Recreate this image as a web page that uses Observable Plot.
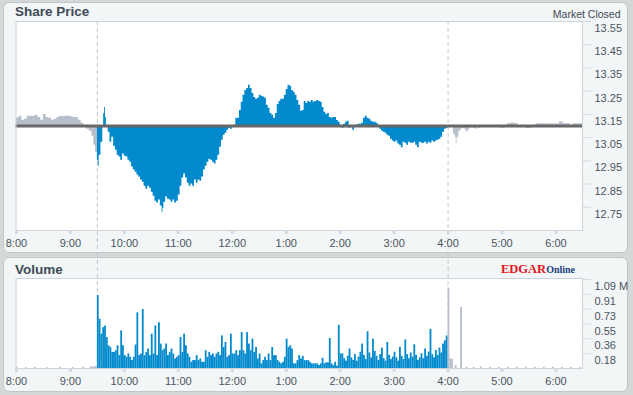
<!DOCTYPE html>
<html><head><meta charset="utf-8">
<script src="https://cdn.jsdelivr.net/npm/d3@7"></script>
<script src="https://cdn.jsdelivr.net/npm/@observablehq/plot@0.6"></script>
<style>
html,body{margin:0;padding:0;}
body{width:633px;height:395px;background:#d4d8d8;position:relative;overflow:hidden;font-family:"Liberation Sans",Arial,sans-serif;}
.panel{position:absolute;left:3px;width:623px;background:#f2f6f6;border:1px solid #c0c8c8;border-radius:6px;}
#p1{top:2px;height:249px;}
#p2{top:257px;height:133px;}
.title{position:absolute;font-weight:bold;font-size:13.5px;line-height:14px;color:#414b58;white-space:nowrap;}
.chart{position:absolute;left:0;}
#closed{position:absolute;right:12.5px;top:7.7px;font-size:10.5px;line-height:12px;color:#3f4853;white-space:nowrap;}
#logo{position:absolute;left:501px;top:260.8px;line-height:14px;font-family:"Liberation Serif","DejaVu Serif",serif;font-weight:bold;white-space:nowrap;}
</style></head><body>
<div class="panel" id="p1"></div>
<div class="panel" id="p2"></div>
<div class="title" style="left:15px;top:5.3px">Share Price</div>
<div id="closed">Market Closed</div>
<div class="title" style="left:15px;top:262.6px">Volume</div>
<div id="logo"><span style="color:#e8141b;font-size:12.5px">EDGAR</span><span style="color:#1b3f7d;font-size:10px">Online</span></div>
<div id="c1" class="chart" style="top:0"></div>
<div id="c2" class="chart" style="top:253px"></div>
<script>
// ---------- data ----------
const previousClose = 13.10;
const sessionMarks = ["9:30", "16:00"];

const preTime = ["8:00","8:03","8:06","8:09","8:12","8:15","8:18","8:21","8:24","8:27","8:30","8:33","8:36","8:39","8:42","8:45","8:48","8:51","8:54","8:57","9:00","9:03","9:06","9:09","9:12","9:15","9:18","9:21","9:24","9:26","9:28"];
const prePrice = [13.134,13.142,13.125,13.129,13.142,13.142,13.142,13.146,13.137,13.125,13.150,13.137,13.133,13.125,13.129,13.137,13.142,13.140,13.142,13.142,13.140,13.137,13.137,13.125,13.112,13.094,13.086,13.077,13.056,13.017,12.987];

const regTime = ["9:30","9:31","9:32","9:34","9:36","9:37","9:38","9:39","9:40","9:42","9:44","9:46","9:48","9:50","9:52","9:54","9:56","9:58",
"10:00","10:02","10:04","10:06","10:08","10:10","10:12","10:14","10:16","10:18","10:20","10:22","10:24","10:26","10:28","10:30","10:32","10:34","10:36","10:38","10:40","10:42","10:43","10:44","10:46","10:48","10:50","10:52","10:54","10:56","10:58",
"11:00","11:02","11:04","11:06","11:08","11:10","11:12","11:14","11:16","11:18","11:20","11:22","11:24","11:26","11:28","11:30","11:32","11:34","11:36","11:38","11:40","11:42","11:44","11:46","11:48","11:50","11:52","11:54","11:56","11:58",
"12:00","12:02","12:04","12:06","12:08","12:10","12:12","12:14","12:16","12:18","12:20","12:22","12:24","12:26","12:28","12:30","12:32","12:34","12:36","12:38","12:40","12:42","12:44","12:46","12:48","12:50","12:52","12:54","12:56","12:58",
"13:00","13:02","13:04","13:06","13:08","13:10","13:12","13:14","13:16","13:18","13:20","13:22","13:24","13:26","13:28","13:30","13:32","13:34","13:36","13:38","13:40","13:42","13:44","13:46","13:48","13:50","13:52","13:54","13:56","13:58",
"14:00","14:02","14:04","14:06","14:08","14:10","14:12","14:14","14:16","14:18","14:20","14:22","14:24","14:26","14:28","14:30","14:32","14:34","14:36","14:38","14:40","14:42","14:44","14:46","14:48","14:50","14:52","14:54","14:56","14:58",
"15:00","15:02","15:04","15:06","15:08","15:10","15:12","15:14","15:16","15:18","15:20","15:22","15:24","15:26","15:28","15:30","15:32","15:34","15:36","15:38","15:40","15:42","15:44","15:46","15:48","15:50","15:52","15:54","15:56","15:58"];
const regPrice = [12.953,12.927,12.974,13.030,13.094,13.154,13.180,13.137,13.103,13.073,13.030,13.052,13.013,12.996,12.974,12.966,12.953,12.979,
12.970,12.966,12.953,12.944,12.923,12.910,12.901,12.889,12.880,12.867,12.858,12.841,12.828,12.841,12.832,12.815,12.798,12.776,12.768,12.781,12.755,12.729,12.746,12.772,12.794,12.785,12.781,12.772,12.781,12.768,12.776,
12.803,12.841,12.876,12.893,12.876,12.854,12.841,12.850,12.841,12.867,12.854,12.867,12.862,12.880,12.910,12.927,12.944,12.957,12.953,12.944,12.936,12.953,12.974,13.009,13.039,13.060,13.069,13.082,13.090,13.086,
13.094,13.103,13.133,13.133,13.167,13.202,13.232,13.253,13.262,13.275,13.262,13.240,13.223,13.215,13.219,13.232,13.228,13.225,13.219,13.189,13.176,13.154,13.146,13.133,13.154,13.193,13.206,13.215,13.215,13.232,
13.257,13.275,13.271,13.253,13.245,13.232,13.210,13.189,13.163,13.167,13.206,13.197,13.206,13.202,13.210,13.202,13.206,13.210,13.206,13.202,13.180,13.159,13.150,13.154,13.137,13.133,13.137,13.137,13.124,13.116,
13.103,13.090,13.107,13.116,13.120,13.090,13.094,13.082,13.094,13.103,13.107,13.107,13.112,13.133,13.142,13.133,13.129,13.120,13.116,13.116,13.112,13.103,13.086,13.077,13.073,13.069,13.060,13.056,13.043,13.035,
13.030,13.035,13.022,13.017,13.006,13.030,13.026,13.017,13.030,13.026,13.026,13.030,13.017,13.006,13.030,13.026,13.026,13.030,13.022,13.030,13.026,13.035,13.030,13.035,13.039,13.043,13.052,13.073,13.086,13.090];

const postTime = ["16:00","16:02","16:04","16:06","16:08","16:09","16:10","16:12","16:14","16:16","16:18","16:20","16:22","16:24","16:26","16:28","16:30","16:32","16:34","16:36","16:40","16:45","16:50","16:55","16:59","17:02","17:06","17:10","17:14","17:18","17:27","17:33","17:38","17:45","17:55","18:04","18:08","18:16","18:19","18:27"];
const postPrice = [13.094,13.094,13.099,13.064,13.052,13.026,13.052,13.077,13.086,13.090,13.086,13.074,13.082,13.090,13.099,13.090,13.086,13.094,13.090,13.099,13.099,13.097,13.099,13.099,13.089,13.100,13.110,13.113,13.110,13.100,13.089,13.100,13.110,13.109,13.109,13.118,13.110,13.100,13.110,13.110];
const dayEnd = "18:30";

// volume (thousands of shares), regular session, 2-minute bars
const volTime = ["9:30","9:32","9:34","9:36","9:38","9:40","9:42","9:44","9:46","9:48","9:50","9:52","9:54","9:56","9:58",
"10:00","10:02","10:04","10:06","10:08","10:10","10:12","10:14","10:16","10:18","10:20","10:22","10:24","10:26","10:28","10:30","10:32","10:34","10:36","10:38","10:40","10:42","10:44","10:46","10:48","10:50","10:52","10:54","10:56","10:58",
"11:00","11:02","11:04","11:06","11:08","11:10","11:12","11:14","11:16","11:18","11:20","11:22","11:24","11:26","11:28","11:30","11:32","11:34","11:36","11:38","11:40","11:42","11:44","11:46","11:48","11:50","11:52","11:54","11:56","11:58",
"12:00","12:02","12:04","12:06","12:08","12:10","12:12","12:14","12:16","12:18","12:20","12:22","12:24","12:26","12:28","12:30","12:32","12:34","12:36","12:38","12:40","12:42","12:44","12:46","12:48","12:50","12:52","12:54","12:56","12:58",
"13:00","13:02","13:04","13:06","13:08","13:10","13:12","13:14","13:16","13:18","13:20","13:22","13:24","13:26","13:28","13:30","13:32","13:34","13:36","13:38","13:40","13:42","13:44","13:46","13:48","13:50","13:52","13:54","13:56","13:58",
"14:00","14:02","14:04","14:06","14:08","14:10","14:12","14:14","14:16","14:18","14:20","14:22","14:24","14:26","14:28","14:30","14:32","14:34","14:36","14:38","14:40","14:42","14:44","14:46","14:48","14:50","14:52","14:54","14:56","14:58",
"15:00","15:02","15:04","15:06","15:08","15:10","15:12","15:14","15:16","15:18","15:20","15:22","15:24","15:26","15:28","15:30","15:32","15:34","15:36","15:38","15:40","15:42","15:44","15:46","15:48","15:50","15:52","15:54","15:56","15:58"];
const volK = [894,603,421,501,521,380,279,258,198,198,218,279,158,461,279,
158,137,178,137,97,137,287,683,158,178,724,158,198,239,158,421,178,521,158,562,300,218,239,300,158,198,239,178,117,137,
158,380,198,421,279,178,137,76,97,97,158,97,117,76,76,218,137,198,158,178,137,178,198,158,400,258,319,137,158,421,
178,178,218,158,218,440,218,178,440,300,218,360,198,258,117,178,57,97,137,97,178,97,258,158,158,97,76,57,76,137,
360,258,279,239,57,57,97,158,117,149,97,97,97,76,57,57,57,57,36,57,125,57,69,69,368,57,36,76,28,530,
178,180,120,90,150,240,130,100,170,90,140,200,300,160,110,450,190,130,360,210,150,100,170,250,120,90,320,160,110,140,
200,130,90,260,150,110,350,170,120,190,140,290,160,100,130,180,120,240,150,200,480,170,130,220,160,250,190,300,340,400];

// volume outside regular hours (thousands)
const extVolTime = ["8:00","8:10","8:20","8:34","8:48","9:02","9:14","9:22","9:24","9:26","9:28","16:00","16:02","16:04","16:08","16:14","16:20","16:28","16:36","16:46","16:56","17:06","17:16","17:26","17:36","17:46","17:56","18:06","18:16","18:26"];
const extVolK = [14,10,12,10,14,12,16,20,18,22,24,986,121,110,36,752,16,14,18,14,16,14,16,14,16,14,16,14,16,14];

const xTickTime = ["8:00","9:00","10:00","11:00","12:00","13:00","14:00","15:00","16:00","17:00","18:00"];
const xTickLabel = ["8:00","9:00","10:00","11:00","12:00","1:00","2:00","3:00","4:00","5:00","6:00"];
const priceTicks = [13.55,13.45,13.35,13.25,13.15,13.05,12.95,12.85,12.75];
const priceTickLabel = ["13.55","13.45","13.35","13.25","13.15","13.05","12.95","12.85","12.75"];
const volTicks = [1092,910,728,546,364,182];
const volTickLabel = ["1.09 M","0.91","0.73","0.55","0.36","0.18"];

// ---------- drawing ----------
const toMin = s => { const [h, m] = s.split(":").map(Number); return h * 60 + m; };
const blue = "#0089cc", gray = "#b8bfcc", textColor = "#4b5461", tickColor = "#d2d9e0", frameColor = "#cbd4dc";
const xDomain = [479.5, 1109.5];
const xLab = new Map(xTickTime.map((s, i) => [toMin(s), xTickLabel[i]]));
const pLab = new Map(priceTicks.map((v, i) => [v, priceTickLabel[i]]));
const vLab = new Map(volTicks.map((v, i) => [v, volTickLabel[i]]));
const xTicks = xTickTime.map(toMin);
const dash = sessionMarks.map(toMin);

function session(times, prices, endTime) {
  const d = times.map((s, i) => ({t: toMin(s), p: prices[i]}));
  d.push({t: toMin(endTime), p: prices[prices.length - 1]});
  return d;
}
const pre = session(preTime, prePrice, regTime[0]);
const reg = session(regTime, regPrice, postTime[0]);
const post = session(postTime, postPrice, dayEnd);

const common = {
  width: 633,
  marginLeft: 15.5, marginRight: 51,
  style: {background: "transparent", fontFamily: "'Liberation Sans', Arial, sans-serif", fontSize: "11px", color: textColor, overflow: "visible"},
  x: {domain: xDomain, label: null},
};
function xAxes() {
  return [
    Plot.axisX({ticks: xTicks, tickSize: 4, strokeWidth: 3, stroke: tickColor, fill: "none", label: null}),
    Plot.axisX({ticks: xTicks, tickSize: 0, tickPadding: 8.5, fill: textColor, tickFormat: d => xLab.get(d), label: null})
  ];
}
function yAxes(ticks, fmt) {
  return [
    Plot.axisY({anchor: "right", ticks, tickSize: 8, stroke: tickColor, fill: "none", label: null}),
    Plot.axisY({anchor: "right", ticks, tickSize: 0, tickPadding: 12, dy: 7, fill: textColor, tickFormat: fmt, label: null})
  ];
}

const price = Plot.plot({
  ...common,
  height: 253, marginTop: 21, marginBottom: 23,
  y: {domain: [12.65, 13.55], label: null},
  marks: [
    Plot.frame({fill: "white", stroke: null}),
    Plot.ruleX(dash, {x: d => d, stroke: "#c3c7cb", strokeDasharray: "4,3", insetBottom: -23}),
    Plot.areaY(pre, {x: "t", y1: previousClose, y2: "p", curve: "step-after", fill: gray, clip: true}),
    Plot.areaY(reg, {x: "t", y1: previousClose, y2: "p", curve: "step-after", fill: blue, clip: true}),
    Plot.areaY(post, {x: "t", y1: previousClose, y2: "p", curve: "step-after", fill: gray, clip: true}),
    Plot.ruleY([previousClose], {stroke: "#676767", strokeWidth: 3}),
    Plot.frame({stroke: frameColor}),
    ...xAxes(),
    ...yAxes(priceTicks, d => pLab.get(d))
  ]
});
document.getElementById("c1").append(price);

const volData = volTime.map((s, i) => ({t: toMin(s), v: volK[i]}));
const extData = extVolTime.map((s, i) => ({t: toMin(s), v: extVolK[i]}));
const volume = Plot.plot({
  ...common,
  height: 140, marginTop: 25, marginBottom: 25,
  y: {domain: [0, 1104], label: null},
  marks: [
    Plot.frame({fill: "white", stroke: null}),
    Plot.ruleX(dash, {x: d => d, stroke: "#c3c7cb", strokeDasharray: "4,3", insetTop: -25}),
    Plot.rectY(volData, {x1: "t", x2: d => d.t + 2, y: "v", fill: blue}),
    Plot.rectY(extData, {x1: "t", x2: d => d.t + 2, y: "v", fill: gray}),
    Plot.frame({stroke: frameColor}),
    ...xAxes(),
    ...yAxes(volTicks, d => vLab.get(d))
  ]
});
document.getElementById("c2").append(volume);
</script>
</body></html>
